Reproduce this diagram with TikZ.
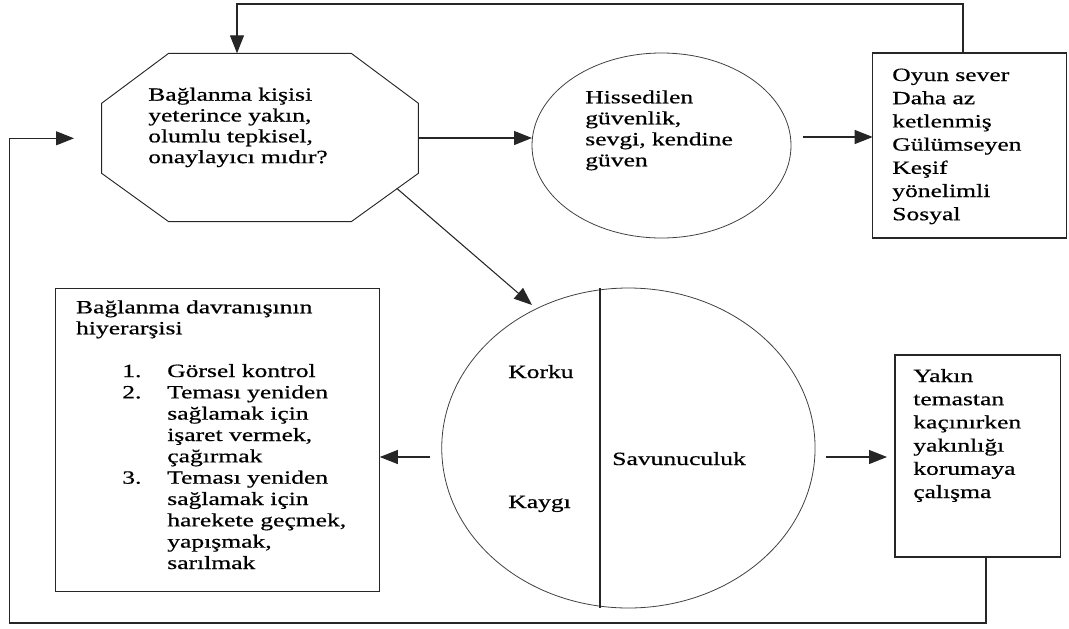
\documentclass[tikz,border=0pt]{standalone}
\usepackage{fontspec}
\setmainfont{Liberation Serif}[FakeStretch=1.37,FakeBold=0.6]
\usetikzlibrary{arrows.meta,shapes.geometric}
\begin{document}
\begin{tikzpicture}[x=0.75pt,y=-0.75pt,
  ln/.style={line width=0.8pt, draw=black!85},
  arr/.style={ln, -{Triangle[length=13.5pt,width=10.5pt]}},
  txt/.style={anchor=base west, inner sep=0pt, text width=260pt, align=left},
  boxnode/.style={draw=black!85, line width=0.8pt, inner sep=0pt},
  ell/.style={ellipse, draw=black!75, line width=0.6pt, inner sep=0pt}
]
\useasboundingbox (0,0) rectangle (1069,628);

% octagon
\coordinate (o1) at (168.7,53.3);
\coordinate (o2) at (351.2,53.3);
\coordinate (o3) at (418.4,103.3);
\coordinate (o4) at (418.4,173.3);
\coordinate (o5) at (351.2,221.7);
\coordinate (o6) at (168.7,221.7);
\coordinate (o7) at (101.6,173.3);
\coordinate (o8) at (101.6,103.3);
\draw[ln, line width=0.7pt] (o1) -- (o2) -- (o3) -- (o4) -- (o5) -- (o6) -- (o7) -- (o8) -- cycle;
\node[txt, font=\fontsize{14}{15.6}\selectfont] (octtext) at (148,100.7)
  {Bağlanma kişisi\\yeterince yakın,\\olumlu tepkisel,\\onaylayıcı mıdır?};

% circle 1
\node[ell, minimum width=194.25pt, minimum height=138.75pt] (c1) at (661.5,145.5) {};
\node[txt, font=\fontsize{14}{15.75}\selectfont] (c1text) at (585,103.3)
  {Hissedilen\\güvenlik,\\sevgi, kendine\\güven};

% box 1
\node[boxnode, minimum width=145pt, minimum height=138.75pt] (b1) at (969.35,145.5) {};
\node[txt, font=\fontsize{14}{17.4}\selectfont] (b1text) at (892,81)
  {Oyun sever\\Daha az\\ketlenmiş\\Gülümseyen\\Keşif\\yönelimli\\Sosyal};

% circle 2
\node[ell, minimum width=280pt, minimum height=240pt] (c2) at (628.4,448) {};
\coordinate (d1) at (600,288);
\coordinate (d2) at (600,608);
\draw[ln] (d1) -- (d2);
\node[txt, font=\fontsize{14}{17}\selectfont] (korku) at (508,378) {Korku};
\node[txt, font=\fontsize{14}{17}\selectfont] (kaygi) at (508,508) {Kaygı};
\node[txt, font=\fontsize{14}{17}\selectfont] (savun) at (612,465) {Savunuculuk};

% box 2
\node[boxnode, minimum width=124.3pt, minimum height=151.5pt] (b2) at (977.85,456) {};
\node[txt, font=\fontsize{14}{17.4}\selectfont] (b2text) at (913,382)
  {Yakın\\temastan\\kaçınırken\\yakınlığı\\korumaya\\çalışma};

% left box
\node[boxnode, minimum width=243pt, minimum height=227.55pt] (lb) at (217.8,440) {};
\node[txt, font=\fontsize{14}{15.75}\selectfont] (lbtitle) at (75.8,313.3)
  {Bağlanma davranışının\\hiyerarşisi};
\node[anchor=base west, inner sep=0pt, font=\fontsize{14}{16}\selectfont] (lblist) at (122,377)
  {\begin{tabular}[t]{@{}p{33.75pt}@{}l@{}}
   1. & Görsel kontrol\\
   2. & Teması yeniden\\
      & sağlamak için\\
      & işaret vermek,\\
      & çağırmak\\
   3. & Teması yeniden\\
      & sağlamak için\\
      & harekete geçmek,\\
      & yapışmak,\\
      & sarılmak
   \end{tabular}};

% connectors
\coordinate (b1top) at (963,53);
\coordinate (t1) at (963,4);
\coordinate (t2) at (237,4);
\coordinate (otop) at (237,53.3);
\draw[arr] (b1top) -- (t1) -- (t2) -- (otop);

\coordinate (oright) at (418.4,138);
\coordinate (c1left) at (532,138);
\draw[arr] (oright) -- (c1left);

\coordinate (c1out) at (803,137);
\coordinate (b1in) at (872.7,137);
\draw[arr] (c1out) -- (b1in);

\coordinate (odiag) at (396.7,188.3);
\coordinate (c2tip) at (532,305);
\draw[arr] (odiag) -- (c2tip);

\coordinate (c2lout) at (430,457);
\coordinate (lbin) at (379.8,457);
\draw[arr] (c2lout) -- (lbin);

\coordinate (c2rout) at (826,457);
\coordinate (b2in) at (887,457);
\draw[arr] (c2rout) -- (b2in);

\coordinate (b2bot) at (986,557);
\coordinate (q1) at (986,623);
\coordinate (q2) at (9.6,623);
\coordinate (q3) at (9.6,138.3);
\coordinate (oleft) at (74,138.3);
\draw[arr] (b2bot) -- (q1) -- (q2) -- (q3) -- (oleft);
\end{tikzpicture}
\end{document}
